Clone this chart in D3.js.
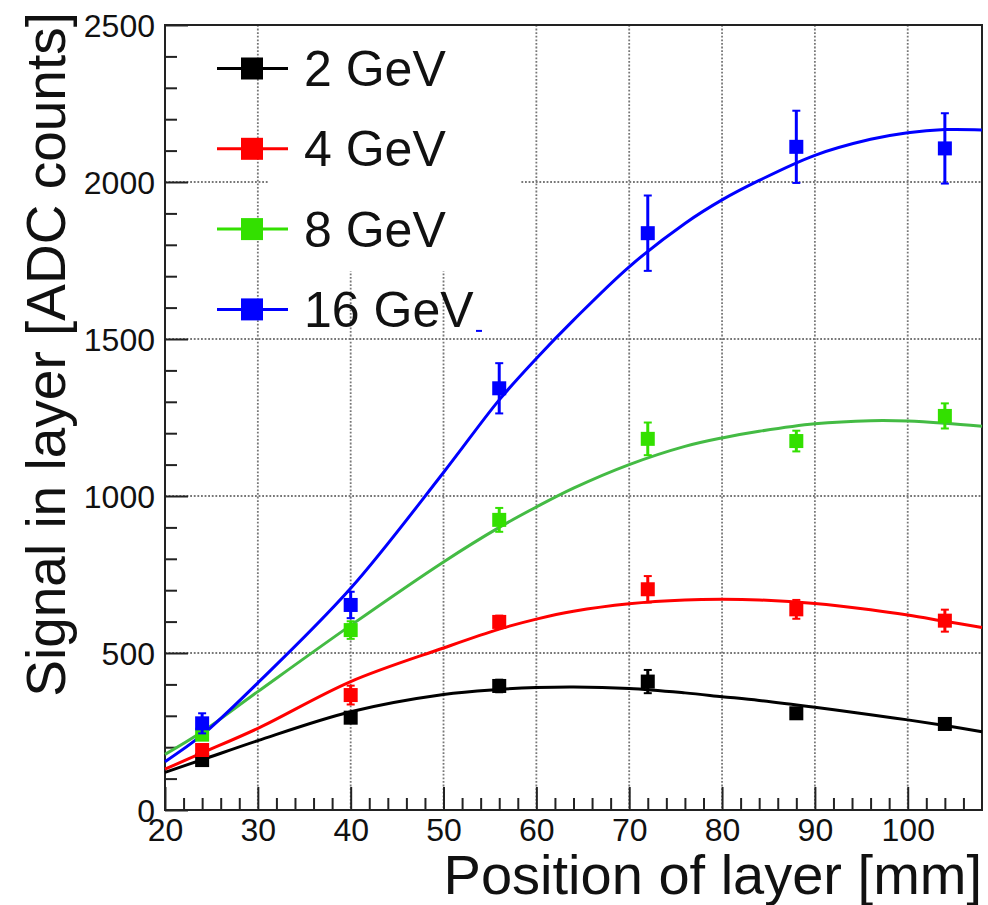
<!DOCTYPE html>
<html>
<head>
<meta charset="utf-8">
<script src="https://cdn.jsdelivr.net/npm/d3@7"></script>
<style>
  html, body { margin: 0; padding: 0; background: #fff; }
  svg { display: block; font-family: "Liberation Sans", Arial, Helvetica, sans-serif; }
</style>
</head>
<body>
<svg id="chart" width="988" height="905"></svg>
<script>
// Beam energies and their colours
const energies = ["2 GeV", "4 GeV", "8 GeV", "16 GeV"];
const markerColors = ["#000000", "#ff0000", "#33e000", "#0000ff"];
const curveColors = ["#000000", "#ff0000", "#44bb44", "#0000ff"];

// Layer positions [mm]
const positions = [24, 40, 56, 72, 88, 104];

// Measured signal per layer [ADC counts]
const signal2 = [159, 294, 395, 409, 308, 274];
const signal4 = [191, 366, 599, 703, 639, 603];
const signal8 = [240, 573, 924, 1182, 1175, 1255];
const signal16 = [276, 653, 1343, 1837, 2112, 2107];

// Uncertainties on the measured signal
const error2 = [8, 10, 20, 37, 10, 10];
const error4 = [15, 30, 20, 42, 30, 35];
const error8 = [15, 28, 38, 52, 33, 40];
const error16 = [32, 42, 80, 120, 115, 112];

// Fitted longitudinal profile, sampled along the position axis
const fitX = [20, 24, 30, 40, 50, 56, 60, 64, 70, 76, 80, 84, 90, 96, 100, 104, 108];
const fit2 = [120, 160, 221, 313, 368, 384, 390, 392, 387, 373, 361, 349, 327, 303, 287, 269, 249];
const fit4 = [130, 182, 260, 409, 516, 576, 608, 633, 657, 669, 671, 669, 658, 638, 621, 601, 581];
const fit8 = [177, 249, 377, 588, 790, 900, 965, 1025, 1100, 1158, 1185, 1206, 1230, 1240, 1239, 1232, 1222];
const fit16 = [154, 239, 405, 706, 1075, 1306, 1438, 1560, 1730, 1868, 1943, 2005, 2085, 2136, 2157, 2167, 2166];

// Axis ticks
const xMajor = [20, 30, 40, 50, 60, 70, 80, 90, 100];
const xMinor = d3.range(22, 108, 2).filter(v => v % 10 !== 0);
const yMajor = [0, 500, 1000, 1500, 2000, 2500];
const yMinor = d3.range(100, 2500, 100).filter(v => v % 500 !== 0);

const xTitle = "Position of layer [mm]";
const yTitle = "Signal in layer [ADC counts]";

const signals = [signal2, signal4, signal8, signal16];
const errors = [error2, error4, error8, error16];
const fits = [fit2, fit4, fit8, fit16];

const svg = d3.select("#chart");
const plotL = 165, plotR = 982, plotT = 25, plotB = 810;

const x = d3.scaleLinear().domain([20, 108]).range([plotL, plotR]);
const y = d3.scaleLinear().domain([0, 2500]).range([plotB, plotT]);

// Dotted grid at the major ticks
const grid = svg.append("g").attr("stroke", "#777").attr("stroke-width", 1.8)
  .attr("stroke-dasharray", "1.8,1.8");
grid.selectAll(".gx").data(xMajor.filter(v => v > 20)).join("line")
  .attr("x1", d => x(d)).attr("x2", d => x(d)).attr("y1", plotT).attr("y2", plotB);
grid.selectAll(".gy").data(yMajor.filter(v => v > 0 && v < 2500)).join("line")
  .attr("x1", plotL).attr("x2", plotR).attr("y1", d => y(d)).attr("y2", d => y(d));

// Legend box background
const legendX = 252, legendY0 = 68.5, legendStep = 80.3;
svg.append("rect").attr("x", 268).attr("y", plotT + 1)
  .attr("width", 252).attr("height", 245).attr("fill", "#fff");

// Ticks pointing into the frame
const axisStyle = g => {
  g.select(".domain").remove();
  g.selectAll(".tick line").attr("stroke", "#222").attr("stroke-width", 2);
};
svg.append("g").attr("transform", `translate(0,${plotB})`)
  .call(d3.axisBottom(x).tickValues(xMinor).tickSize(-12).tickFormat(""))
  .call(axisStyle);
svg.append("g").attr("transform", `translate(0,${plotB})`)
  .call(d3.axisBottom(x).tickValues(xMajor).tickSize(-23).tickPadding(0).tickFormat(d3.format("d")))
  .call(axisStyle)
  .call(g => g.selectAll(".tick text").attr("y", 31).attr("dy", 0)
    .attr("font-size", 32).attr("fill", "#111"));
svg.append("g").attr("transform", `translate(${plotL},0)`)
  .call(d3.axisLeft(y).tickValues(yMinor).tickSize(-12).tickFormat(""))
  .call(axisStyle);
svg.append("g").attr("transform", `translate(${plotL},0)`)
  .call(d3.axisLeft(y).tickValues(yMajor).tickSize(-23).tickPadding(0).tickFormat(d3.format("d")))
  .call(axisStyle)
  .call(g => g.selectAll(".tick text").attr("x", -10).attr("dy", "0.36em")
    .attr("font-size", 32).attr("fill", "#111"));

// Frame
svg.append("rect").attr("x", plotL).attr("y", plotT)
  .attr("width", plotR - plotL).attr("height", plotB - plotT)
  .attr("fill", "none").attr("stroke", "#222").attr("stroke-width", 2);

// Fit curves
const line = d3.line().x(d => x(d[0])).y(d => y(d[1])).curve(d3.curveCatmullRom.alpha(0.5));
fits.forEach((f, i) => {
  svg.append("path").datum(fitX.map((px, k) => [px, f[k]]))
    .attr("d", line).attr("fill", "none")
    .attr("stroke", curveColors[i]).attr("stroke-width", 3);
});

// Measured points with error bars
const ms = 14, cap = 4;
signals.forEach((s, i) => {
  const g = svg.append("g").attr("stroke", markerColors[i]).attr("fill", markerColors[i]);
  positions.forEach((p, k) => {
    const cx = x(p), v = s[k], e = errors[i][k];
    g.append("line").attr("x1", cx).attr("x2", cx)
      .attr("y1", y(v + e)).attr("y2", y(v - e)).attr("stroke-width", 3);
    [v + e, v - e].forEach(t => g.append("line")
      .attr("x1", cx - cap).attr("x2", cx + cap).attr("y1", y(t)).attr("y2", y(t))
      .attr("stroke-width", 2));
    g.append("rect").attr("x", cx - ms / 2).attr("y", y(v) - ms / 2)
      .attr("width", ms).attr("height", ms).attr("stroke", "none");
  });
});

// Legend
energies.forEach((name, i) => {
  const cy = legendY0 + i * legendStep;
  svg.append("line").attr("x1", legendX - 35).attr("x2", legendX + 36)
    .attr("y1", cy).attr("y2", cy).attr("stroke", markerColors[i]).attr("stroke-width", 3);
  svg.append("rect").attr("x", legendX - 11).attr("y", cy - 11)
    .attr("width", 22).attr("height", 22).attr("fill", markerColors[i]);
  svg.append("text").attr("x", 304).attr("y", cy + 17.5)
    .attr("font-size", 50).attr("fill", "#111").text(name);
});
// short blue stroke trailing the last legend entry
svg.append("line").attr("x1", 476).attr("x2", 482)
  .attr("y1", legendY0 + 3 * legendStep + 21.5).attr("y2", legendY0 + 3 * legendStep + 21.5)
  .attr("stroke", markerColors[3]).attr("stroke-width", 2);

// Axis titles
svg.append("text").attr("x", 982).attr("y", 894).attr("text-anchor", "end")
  .attr("font-size", 56).attr("fill", "#111").text(xTitle);
svg.append("text").attr("transform", "translate(65,12) rotate(-90)")
  .attr("text-anchor", "end").attr("font-size", 55).attr("fill", "#111").text(yTitle);
</script>
</body>
</html>
